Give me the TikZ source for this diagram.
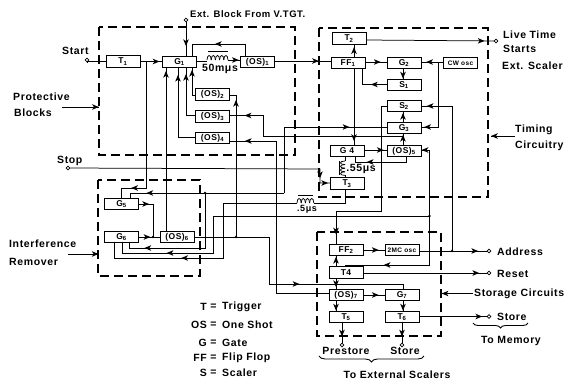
\documentclass[tikz,border=0pt]{standalone}
\usepackage{fontspec}
\setmainfont{Liberation Sans}
\newfontfamily\lbf{Liberation Sans}[LetterSpace=6]
\usetikzlibrary{decorations.pathreplacing,calc}
\tikzset{
  ah/.pic={\fill[black] (3.6,0) -- (-3.2,2.8) -- (-1.4,0) -- (-3.2,-2.8) -- cycle;},
  ahp/.style={pos=#1,sloped,allow upside down},
  ln/.style={line width=0.75pt,black},
  bx/.style={draw,line width=1pt,minimum width=34pt,minimum height=11.5pt,inner sep=0pt,font=\lbf\bfseries\fontsize{8.5}{9}\selectfont,fill=white,text=black},
  dbox/.style={draw,line width=1.3pt,dash pattern=on 9pt off 5pt},
  term/.style={circle,draw,line width=0.7pt,fill=white,minimum size=3.8pt,inner sep=0pt},
  lab/.style={font=\lbf\bfseries\fontsize{10.5}{11}\selectfont,inner sep=0pt,text=black},
  labr/.style={lab,anchor=west},
  jn/.style={circle,fill=black,minimum size=2.6pt,inner sep=0pt},
}
\newcommand{\bumpsh}[3]{\foreach \i in {1,...,#3}{\draw[ln] ({#1+4.2*(\i-1)},#2) .. controls ({#1+4.2*(\i-1)},#2-6) and ({#1+4.2*\i},#2-6) .. ({#1+4.2*\i},#2);}}
\newcommand{\bumpsv}[3]{\foreach \i in {1,...,#3}{\draw[ln] (#1,{#2+3.6*(\i-1)}) .. controls (#1-6,{#2+3.6*(\i-1)}) and (#1-6,{#2+3.6*\i}) .. (#1,{#2+3.6*\i});}}
\begin{document}
\begin{tikzpicture}[x=1pt,y=-1pt]
\useasboundingbox (0,0) rectangle (566,381);
\fill[white] (0,0) rectangle (566,381);
% dashed frames
\draw[dbox] (99,27) rectangle (295,155);
\draw[dbox] (319,28) rectangle (488,197);
\draw[dbox] (98,180) rectangle (200,276);
\draw[dbox] (317,232) rectangle (441,336);
% terminals
\node[term] (tStart) at (87,60) {};
\node[term] (tExt) at (186,20) {};
\node[term] (tStop) at (68,168) {};
\node[term] (tLive) at (496,41) {};
\node[term] (tAddr) at (489,251) {};
\node[term] (tReset) at (489,273) {};
\node[term] (tStore) at (489,316.5) {};
\node[term] (tPre) at (342,345) {};
\node[term] (tSto) at (402,345) {};
% connectors
\coordinate (j1) at (146,61.5);
\draw[ln] (tStart) -- (87,61.5) -- (j1);
\draw[ln] (j1) -- (146,188) -- (121,188) pic[ahp=.45]{ah} -- (121,198);
\draw[ln] (j1) -- (162.5,61.5) pic[ahp=.6]{ah};
\draw[ln] (tExt) -- (186,56) pic[ahp=.6]{ah};
\draw[ln] (245,56) -- (245,44) -- (192,44) pic[ahp=.5]{ah} -- (192,56);
% G1 to OS1 with coil
\draw[ln] (197,61) -- (207,61);
\bumpsh{207}{60}{5}
\draw[line width=1.6pt] (208,51.5) -- (228,51.5);
\draw[ln] (228,60) -- (240,60) pic[ahp=.6]{ah};
\draw[ln] (275,61) -- (331,61) pic[ahp=.72]{ah};
% timing block
\draw[ln] (354,57) -- (354,44.5) pic[ahp=.5]{ah};
\draw[ln] (366,40) -- (tLive) pic[ahp=.9]{ah};
\draw[ln] (365,62) -- (387,62) pic[ahp=.55]{ah};
\draw[ln] (443,62) -- (421,62) pic[ahp=.6]{ah};
\draw[ln] (438,62) -- (438,127) -- (421,127) pic[ahp=.6]{ah};
\draw[ln] (403,69) -- (403,79) pic[ahp=.6]{ah};
\draw[ln] (387,84.5) -- (362,84.5) pic[ahp=.5]{ah} -- (362,69);
\draw[ln] (354,69) -- (354,145) pic[ahp=.9]{ah};
\draw[ln] (tAddr) -- (452,251) -- (452,106) -- (421,106) pic[ahp=.7]{ah};
\draw[ln] (403,122) -- (403,112) pic[ahp=.55]{ah};
\draw[ln] (387,106) -- (381,106) -- (381,211) -- (336,211) -- (336,244) pic[ahp=.6]{ah};
\draw[ln] (403,145) -- (403,134) pic[ahp=.6]{ah};
\draw[ln] (403,136) -- (263,136) -- (263,115.5) -- (230,115.5) pic[ahp=.45]{ah};
\draw[ln] (364,150) -- (387,150) pic[ahp=.7]{ah};
\draw[ln] (406,157) -- (406,162) -- (355,162) pic[ahp=.7]{ah} -- (355,157);
\draw[ln] (345,157) -- (345,161);
\bumpsv{345}{161}{4}
\draw[ln] (345,175.4) -- (345,178);
\draw[line width=1.6pt] (339.5,161) -- (339.5,175);
% Stop
\draw[ln] (tStop) -- (320,169) -- (320,183) pic[ahp=.4]{ah} -- (330,183) pic[ahp=.45]{ah};
% G3 input, upper left
\draw[ln] (284,193) -- (284,127) -- (387,127) pic[ahp=.6]{ah};
\draw[ln] (284,193) -- (130,193) pic[ahp=.87]{ah} -- (130,198);
\coordinate (j2) at (205,193);
\node[jn] at (j2) {};
\draw[ln] (j2) -- (205,248) -- (129,248) pic[ahp=.75]{ah} -- (129,243);
% second
\coordinate (j3) at (429.5,216);
\node[jn] at (j3) {};
\draw[ln] (j3) -- (213,216) -- (213,253) -- (122,253) pic[ahp=.47]{ah} -- (122,243);
\draw[ln] (421,150) -- (429.5,150) -- (429.5,265) -- (345,265) pic[ahp=.5]{ah} -- (345,267);
\draw[ln] (429.5,150) -- (421,150) pic[ahp=.5]{ah};
% third with coil
\draw[ln] (297,203) -- (223,203) -- (223,258) -- (114,258) pic[ahp=.35]{ah} -- (114,243);
\bumpsh{297}{203}{4}
\draw[line width=1.6pt] (298,195.5) -- (313,195.5);
\draw[ln] (314,203) -- (345,203) -- (345,189);
% G1 inputs
\draw[ln] (166,231) -- (166,68) pic[ahp=.96]{ah};
\draw[ln] (195,95) -- (192,95) -- (192,68) pic[ahp=.8]{ah};
\draw[ln] (195,115.5) -- (186,115.5) -- (186,68) pic[ahp=.8]{ah};
\draw[ln] (195,137.5) -- (178,137.5) -- (178,68) pic[ahp=.85]{ah};
% OS6, G5, G6
\draw[ln] (138,204) -- (153,204) pic[ahp=.5]{ah} -- (153,237);
\draw[ln] (138,237) -- (160,237) pic[ahp=.4]{ah};
\node[jn] (j4) at (153,237) {};
\coordinate (j5) at (236,237);
\node[jn] at (j5) {};
\draw[ln] (194,237) -- (269,237) -- (269,284) -- (403,284) pic[ahp=.2]{ah} -- (403,289);
\draw[ln] (j5) -- (236,95) pic[ahp=.94]{ah} -- (230,95);
\draw[ln] (230,141) -- (276,141) -- (276,293) -- (329,293);
\draw[ln] (276,141) -- (230,141) pic[ahp=.6]{ah};
% Storage
\draw[ln] (363,250) -- (385,250) pic[ahp=.55]{ah};
\draw[ln] (419,251) -- (tAddr) pic[ahp=.82]{ah};
\node[jn] at (452,251) {};
\draw[ln] (336,267) -- (336,256) pic[ahp=.6]{ah};
\draw[ln] (363,273) -- (tReset) pic[ahp=.91]{ah};
\draw[ln] (336,278) -- (336,289) pic[ahp=.5]{ah};
\draw[ln] (363,295) -- (385,295) pic[ahp=.55]{ah};
\draw[ln] (336,301) -- (336,311) pic[ahp=.6]{ah};
\draw[ln] (403,301) -- (403,311) pic[ahp=.6]{ah};
\draw[ln] (342,323) -- (tPre) pic[ahp=.5]{ah};
\draw[ln] (402,323) -- (tSto) pic[ahp=.5]{ah};
\draw[ln] (419,316.5) -- (tStore) pic[ahp=.88]{ah};
% side arrows
\draw[ln] (62,107) -- (99,107) pic[ahp=.9]{ah};
\draw[ln] (68,254) -- (98,254) pic[ahp=.9]{ah};
\draw[ln] (515,136) -- (491,136) pic[ahp=.85]{ah};
\draw[ln] (473,293.5) -- (441.5,293.5) pic[ahp=.88]{ah};
% boxes
\node[bx] (T1) at (123,61.5) {T\textsubscript{1}};
\node[bx] (G1) at (179.5,62) {G\textsubscript{1}};
\node[bx] (OS1) at (257.5,62) {(OS)\textsubscript{1}};
\node[bx] (OS2) at (212.5,94.5) {(OS)\textsubscript{2}};
\node[bx] (OS3) at (212.5,116.5) {(OS)\textsubscript{3}};
\node[bx] (OS4) at (212.5,138) {(OS)\textsubscript{4}};
\node[bx] (T2) at (349,38.5) {T\textsubscript{2}};
\node[bx] (FF1) at (348,63) {FF\textsubscript{1}};
\node[bx] (G2) at (404,63) {G\textsubscript{2}};
\node[bx,font=\lbf\bfseries\fontsize{6.5}{7}\selectfont] (CW) at (460.5,63) {CW osc};
\node[bx] (S1) at (404,85) {S\textsubscript{1}};
\node[bx] (S2) at (404,106) {S\textsubscript{2}};
\node[bx] (G3) at (404,128) {G\textsubscript{3}};
\node[bx] (G4) at (347,151) {G 4};
\node[bx] (OS5) at (404,151) {(OS)\textsubscript{5}};
\node[bx] (T3) at (347,183.5) {T\textsubscript{3}};
\node[bx] (G5) at (121.5,204) {G\textsubscript{5}};
\node[bx] (G6) at (121.5,237) {G\textsubscript{6}};
\node[bx] (OS6) at (177,237) {(OS)\textsubscript{6}};
\node[bx] (FF2) at (346,250) {FF\textsubscript{2}};
\node[bx,font=\lbf\bfseries\fontsize{6.5}{8}\selectfont] (MC) at (402,250) {2MC osc};
\node[bx] (T4) at (346,272.5) {T4};
\node[bx] (OS7) at (346,295) {(OS)\textsubscript{7}};
\node[bx] (G7) at (402,295) {G\textsubscript{7}};
\node[bx] (T5) at (346,317) {T\textsubscript{5}};
\node[bx] (T6) at (402,317) {T\textsubscript{6}};
% labels
\node[labr,font=\lbf\bfseries\fontsize{9.5}{10}\selectfont] (lExt) at (190,14) {Ext. Block From V.TGT.};
\node[labr] (lStart) at (62,51) {Start};
\node[labr] (lStop) at (57,161) {Stop};
\node[labr] (lProt) at (13,97) {Protective};
\node[labr] (lBlk) at (14,113) {Blocks};
\node[labr] (lInt) at (9,244) {Interference};
\node[labr] (lRem) at (9,262) {Remover};
\node[labr] (lLive) at (503,35) {Live Time};
\node[labr] (lSta) at (503,49) {Starts};
\node[labr] (lSca) at (502,66) {Ext. Scaler};
\node[labr] (lTim) at (515,130) {Timing};
\node[labr] (lCir) at (515,146) {Circuitry};
\node[labr] (lAddr) at (497,252) {Address};
\node[labr] (lRes) at (497,274) {Reset};
\node[labr] (lStor) at (474,293.5) {Storage Circuits};
\node[labr] (lStr) at (497,317) {Store};
\node[lab] (lMem) at (511,341) {To Memory};
\node[lab] (lPre) at (346,351) {Prestore};
\node[lab] (lS2) at (405,351) {Store};
\node[lab] (lExtS) at (397,375) {To External Scalers};
\node[lab] (l50) at (220,68.5) {50mμs};
\node[lab] (l55) at (361,169) {.55μs};
\node[lab,font=\lbf\bfseries\fontsize{9}{10}\selectfont] (l5) at (307,209.5) {.5μs};
% legend
\foreach \y/\a/\b/\n in {307/T/Trigger/a,325/OS/One Shot/b,343/G/Gate/c,358/FF/Flip Flop/d,373/S/Scaler/e}{
  \node[lab,anchor=east] (lgA\n) at (207,\y) {\a};
  \node[lab] (lgE\n) at (213.5,\y) {=};
  \node[labr] (lgB\n) at (222,\y) {\b};
}
% braces
\draw[line width=0.9pt,decorate,decoration={brace,amplitude=5pt,mirror}] (473,323) -- (528,323);
\draw[line width=0.9pt,decorate,decoration={brace,amplitude=6pt,mirror}] (319,356) -- (424,356);
\end{tikzpicture}
\end{document}
